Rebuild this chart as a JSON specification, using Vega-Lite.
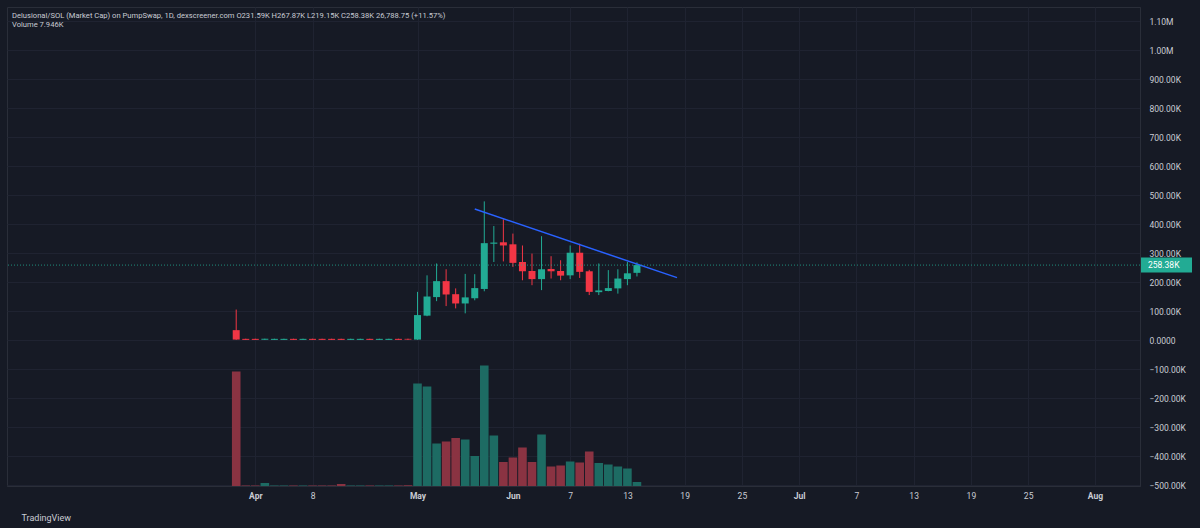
{
  "$schema": "https://vega.github.io/schema/vega-lite/v6.json",
  "autosize": "none",
  "width": 1133,
  "height": 479,
  "padding": {"left": 7, "top": 7, "right": 60, "bottom": 42},
  "background": "#161a25",
  "title": {
    "text": "Delusional/SOL (Market Cap) on PumpSwap, 1D, dexscreener.com O231.59K H267.87K L219.15K C258.38K 26,788.75 (+11.57%)",
    "subtitle": "Volume 7.946K",
    "anchor": "start",
    "frame": "group",
    "orient": "top",
    "offset": -22,
    "dx": 5,
    "font": "Roboto",
    "fontSize": 7.6,
    "fontWeight": "normal",
    "color": "#c9ccd4",
    "subtitleFont": "Roboto",
    "subtitleFontSize": 7.6,
    "subtitleColor": "#c9ccd4",
    "subtitlePadding": 2
  },
  "datasets": {
    "bars": [
      {"i": -2, "o": 34, "h": 105, "l": 0.5, "c": 1.5, "v": 229},
      {"i": -1, "o": 4, "h": 4.5, "l": 0.3, "c": 0.5, "v": 1},
      {"i": 0, "o": 4, "h": 4.5, "l": 0.3, "c": 0.5, "v": 1},
      {"i": 1, "o": 0.5, "h": 4.5, "l": 0.3, "c": 4, "v": 6},
      {"i": 2, "o": 0.5, "h": 4.5, "l": 0.3, "c": 4, "v": 1},
      {"i": 3, "o": 0.5, "h": 4.5, "l": 0.3, "c": 4, "v": 1},
      {"i": 4, "o": 4, "h": 4.5, "l": 0.3, "c": 0.5, "v": 1},
      {"i": 5, "o": 0.5, "h": 4.5, "l": 0.3, "c": 4, "v": 1},
      {"i": 6, "o": 4, "h": 4.5, "l": 0.3, "c": 0.5, "v": 1},
      {"i": 7, "o": 4, "h": 4.5, "l": 0.3, "c": 0.5, "v": 1},
      {"i": 8, "o": 4, "h": 4.5, "l": 0.3, "c": 0.5, "v": 1},
      {"i": 9, "o": 4, "h": 4.5, "l": 0.3, "c": 0.5, "v": 4},
      {"i": 10, "o": 0.5, "h": 4.5, "l": 0.3, "c": 4, "v": 1},
      {"i": 11, "o": 0.5, "h": 4.5, "l": 0.3, "c": 4, "v": 1},
      {"i": 12, "o": 4, "h": 4.5, "l": 0.3, "c": 0.5, "v": 1},
      {"i": 13, "o": 0.5, "h": 4.5, "l": 0.3, "c": 4, "v": 1},
      {"i": 14, "o": 0.5, "h": 4.5, "l": 0.3, "c": 4, "v": 1},
      {"i": 15, "o": 4, "h": 4.5, "l": 0.3, "c": 0.5, "v": 1},
      {"i": 16, "o": 4, "h": 4.5, "l": 0.3, "c": 1.5, "v": 1.5},
      {"i": 17, "o": 1.5, "h": 166, "l": 0.5, "c": 86, "v": 205},
      {"i": 18, "o": 84, "h": 223, "l": 82, "c": 150, "v": 199},
      {"i": 19, "o": 148, "h": 264, "l": 134, "c": 203, "v": 85},
      {"i": 20, "o": 203, "h": 244, "l": 117, "c": 157, "v": 89},
      {"i": 21, "o": 158, "h": 178, "l": 109, "c": 126, "v": 96},
      {"i": 22, "o": 126, "h": 228, "l": 92, "c": 147, "v": 93},
      {"i": 23, "o": 144, "h": 227, "l": 137, "c": 179, "v": 60},
      {"i": 24, "o": 176, "h": 478, "l": 168, "c": 334, "v": 241},
      {"i": 25, "o": 332, "h": 393, "l": 269, "c": 336, "v": 101},
      {"i": 26, "o": 337, "h": 416, "l": 271, "c": 326, "v": 48},
      {"i": 27, "o": 330, "h": 367, "l": 252, "c": 266, "v": 57},
      {"i": 28, "o": 269, "h": 326, "l": 206, "c": 237, "v": 77},
      {"i": 29, "o": 238, "h": 298, "l": 189, "c": 210, "v": 48},
      {"i": 30, "o": 210, "h": 358, "l": 172, "c": 244, "v": 103},
      {"i": 31, "o": 245, "h": 289, "l": 212, "c": 237, "v": 39},
      {"i": 32, "o": 238, "h": 275, "l": 206, "c": 222, "v": 41},
      {"i": 33, "o": 223, "h": 326, "l": 210, "c": 301, "v": 49},
      {"i": 34, "o": 301, "h": 332, "l": 214, "c": 235, "v": 47},
      {"i": 35, "o": 237, "h": 242, "l": 155, "c": 166, "v": 69},
      {"i": 36, "o": 165, "h": 264, "l": 155, "c": 171, "v": 46},
      {"i": 37, "o": 169, "h": 241, "l": 168, "c": 179, "v": 43},
      {"i": 38, "o": 178, "h": 244, "l": 160, "c": 212, "v": 39},
      {"i": 39, "o": 210, "h": 269, "l": 189, "c": 230, "v": 35},
      {"i": 40, "o": 231.59, "h": 267.87, "l": 219.15, "c": 258.38, "v": 7.946}
    ],
    "trend": [
      {"i": 23.0, "p": 451.7},
      {"i": 44.2, "p": 215}
    ]
  },
  "resolve": {"scale": {"y": "independent"}},
  "layer": [
    {
      "data": {"name": "bars"},
      "mark": {"type": "bar", "width": 8.6},
      "encoding": {
        "x": {
          "field": "i",
          "type": "quantitative",
          "scale": {"domain": [-25.5, 92.2], "nice": false, "zero": false},
          "axis": {
            "values": [0, 6, 17, 27, 33, 39, 45, 51, 57, 63, 69, 75, 81, 88],
            "labelExpr": "['Apr','8','May','Jun','7','13','19','25','Jul','7','13','19','25','Aug'][indexof([0,6,17,27,33,39,45,51,57,63,69,75,81,88], datum.value)]",
            "labelFontWeight": {"condition": {"test": "indexof([0,17,27,57,88], datum.value) >= 0", "value": "bold"}, "value": "normal"},
            "labelColor": "#c9ccd4",
            "labelFont": "Roboto",
            "labelFontSize": 8.5,
            "labelPadding": 5,
            "labelOverlap": false,
            "labelSeparation": 0,
            "ticks": false,
            "domain": true,
            "domainColor": "#2a2e39",
            "grid": true,
            "gridColor": "#1f2331",
            "title": "TradingView",
            "titleAnchor": "start",
            "titleAlign": "left",
            "titleBaseline": "middle",
            "titleX": 14,
            "titleY": 31,
            "titleFont": "Roboto",
            "titleFontSize": 9,
            "titleFontWeight": "normal",
            "titleColor": "#c9ccd4"
          }
        },
        "y": {
          "field": "v",
          "type": "quantitative",
          "scale": {"domain": [0, 958], "nice": false, "zero": true},
          "axis": null
        },
        "color": {
          "condition": {"test": "datum.c >= datum.o", "value": "#1d6b63"},
          "value": "#8a3342"
        }
      }
    },
    {
      "layer": [
        {
          "data": {"name": "bars"},
          "mark": {"type": "rule", "strokeWidth": 1},
          "encoding": {
            "x": {"field": "i", "type": "quantitative", "scale": {"domain": [-25.5, 92.2], "nice": false, "zero": false}},
            "y": {
              "field": "l",
              "type": "quantitative",
              "scale": {"domain": [-503.4, 1148.3], "nice": false, "zero": false},
              "axis": {
                "orient": "right",
                "values": [-500, -400, -300, -200, -100, 0, 100, 200, 300, 400, 500, 600, 700, 800, 900, 1000, 1100],
                "tickCount": 17,
                "labelExpr": "datum.value == 0 ? '0.0000' : (abs(datum.value) >= 1000 ? format(datum.value / 1000, '.2f') + 'M' : format(datum.value, '.2f') + 'K')",
                "labelColor": "#c9ccd4",
                "labelFont": "Roboto",
                "labelFontSize": 8.5,
                "labelPadding": 9,
                "labelOverlap": false,
                "labelSeparation": 0,
                "ticks": false,
                "domain": true,
                "domainColor": "#2a2e39",
                "grid": true,
                "gridColor": "#1f2331",
                "title": null
              }
            },
            "y2": {"field": "h"},
            "color": {
              "condition": {"test": "datum.c >= datum.o", "value": "#22ab94"},
              "value": "#f23645"
            }
          }
        },
        {
          "data": {"name": "bars"},
          "mark": {"type": "bar", "width": 7},
          "encoding": {
            "x": {"field": "i", "type": "quantitative"},
            "y": {"field": "o", "type": "quantitative"},
            "y2": {"field": "c"},
            "color": {
              "condition": {"test": "datum.c >= datum.o", "value": "#22ab94"},
              "value": "#f23645"
            }
          }
        },
        {
          "data": {"name": "trend"},
          "mark": {"type": "line", "color": "#2962ff", "strokeWidth": 1.5},
          "encoding": {
            "x": {"field": "i", "type": "quantitative"},
            "y": {"field": "p", "type": "quantitative"}
          }
        },
        {
          "data": {"name": "bars"},
          "transform": [{"filter": "datum.i == 40"}],
          "mark": {"type": "rule", "color": "#22ab94", "strokeDash": [1, 2], "strokeWidth": 1, "opacity": 0.8},
          "encoding": {
            "y": {"field": "c", "type": "quantitative"}
          }
        },
        {
          "data": {"name": "bars"},
          "transform": [{"filter": "datum.i == 40"}],
          "mark": {"type": "rect", "color": "#22ab94", "clip": false, "yOffset": -7.5, "y2Offset": 7.5},
          "encoding": {
            "x": {"value": {"expr": "width + 1"}},
            "x2": {"value": {"expr": "width + 52"}},
            "y": {"field": "c", "type": "quantitative"},
            "y2": {"field": "c"}
          }
        },
        {
          "data": {"name": "bars"},
          "transform": [
            {"filter": "datum.i == 40"},
            {"calculate": "format(datum.c, '.2f') + 'K'", "as": "label"}
          ],
          "mark": {"type": "text", "color": "#ffffff", "font": "Roboto", "fontSize": 8.5, "align": "left", "baseline": "middle", "clip": false},
          "encoding": {
            "x": {"value": {"expr": "width + 8"}},
            "y": {"field": "c", "type": "quantitative"},
            "text": {"field": "label", "type": "nominal"}
          }
        }
      ]
    }
  ],
  "config": {
    "view": {"stroke": "#2a2e39", "fill": "#161a25"},
    "axis": {"labelOverlap": false, "labelFlush": false, "labelBound": false},
    "axisY": {"labelOverlap": false},
    "axisRight": {"labelOverlap": false},
    "axisQuantitative": {"labelOverlap": false}
  }
}
